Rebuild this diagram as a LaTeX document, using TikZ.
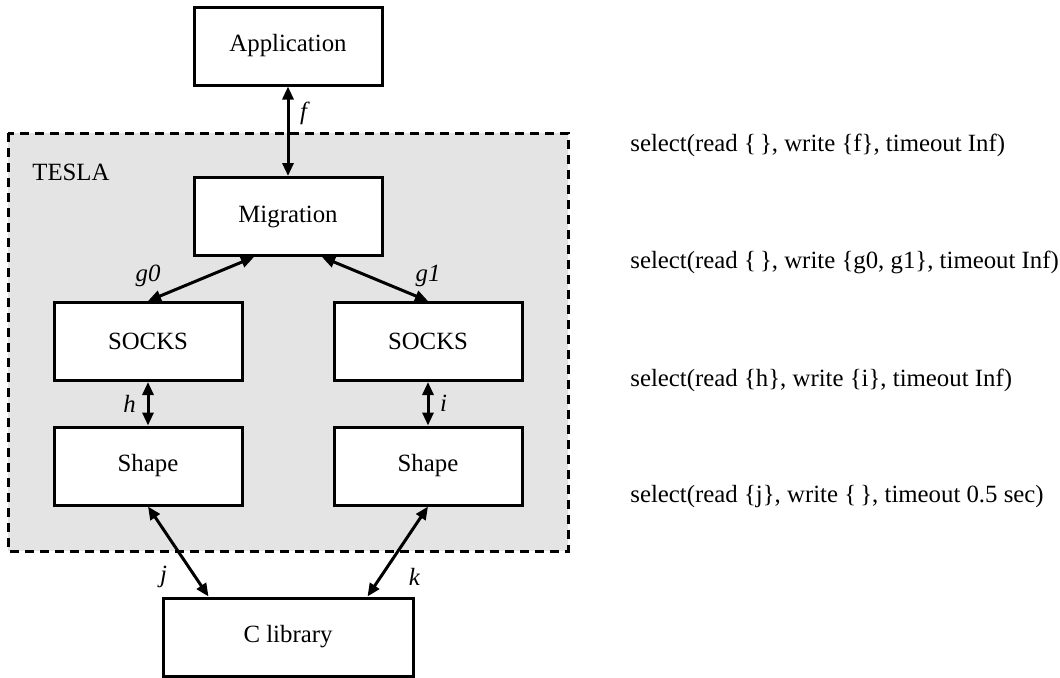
\documentclass[tikz,border=0pt]{standalone}
\usepackage{fontspec}
\setmainfont{Liberation Serif}
\usetikzlibrary{arrows.meta}
\definecolor{zonegray}{RGB}{228,228,228}

\begin{document}
\begin{tikzpicture}[x=0.5pt,y=-0.5pt,
  font=\fontsize{12.4}{14}\selectfont,
  layer/.style={draw,line width=1.5pt,fill=white,minimum width=94pt,minimum height=39pt,inner sep=0pt},
  link/.style={line width=1.5pt,{Triangle[length=6.5pt,width=5.5pt]}-{Triangle[length=6.5pt,width=5.5pt]}},
  call/.style={anchor=west,inner sep=0pt}]
\useasboundingbox (0,0) rectangle (1060,677);
% the TESLA zone
\draw[line width=1.5pt,dash pattern=on 4.5pt off 3pt,fill=zonegray] (8,133) rectangle (568,551);
\node[anchor=west,inner sep=0pt] (tesla) at (32,172) {TESLA};
% stack of layers
\node[layer] (app) at (288,46) {Application};
\node[layer] (mig) at (288,216.5) {Migration};
\node[layer] (socksl) at (148,341.5) {SOCKS};
\node[layer] (socksr) at (428,341.5) {SOCKS};
\node[layer] (shapel) at (148,466) {Shape};
\node[layer] (shaper) at (428,466) {Shape};
\node[layer,minimum width=125pt] (clib) at (288,637) {C library};
% descriptors between layers
\draw[link] (app.south) -- node[pos=0.3,right=2pt] (f) {\textit{f}} (mig.north);
\draw[link] (socksl.north) -- node[pos=0,above=3pt] (g0) {\textit{g0}} (mig.230);
\draw[link] (socksr.north) -- node[pos=0,above=3pt] (g1) {\textit{g1}} (mig.310);
\draw[link] (socksl.south) -- node[midway,left=2pt] (h) {\textit{h}} (shapel.north);
\draw[link] (socksr.south) -- node[midway,right=2pt] (i) {\textit{i}} (shaper.north);
\draw[link] (shapel.south) -- node[pos=0.78,left=10pt] (j) {\textit{j}} (clib.153);
\draw[link] (shaper.south) -- node[pos=0.78,right=10pt] (k) {\textit{k}} (clib.27);
% select() calls at each level
\node[call] (sel1) at (630,145) {select(read \{\,\}, write \{f\}, timeout Inf)};
\node[call] (sel2) at (630,262) {select(read \{\,\}, write \{g0, g1\}, timeout Inf)};
\node[call] (sel3) at (630,380) {select(read \{h\}, write \{i\}, timeout Inf)};
\node[call] (sel4) at (630,497) {select(read \{j\}, write \{\,\}, timeout 0.5 sec)};
\end{tikzpicture}
\end{document}
